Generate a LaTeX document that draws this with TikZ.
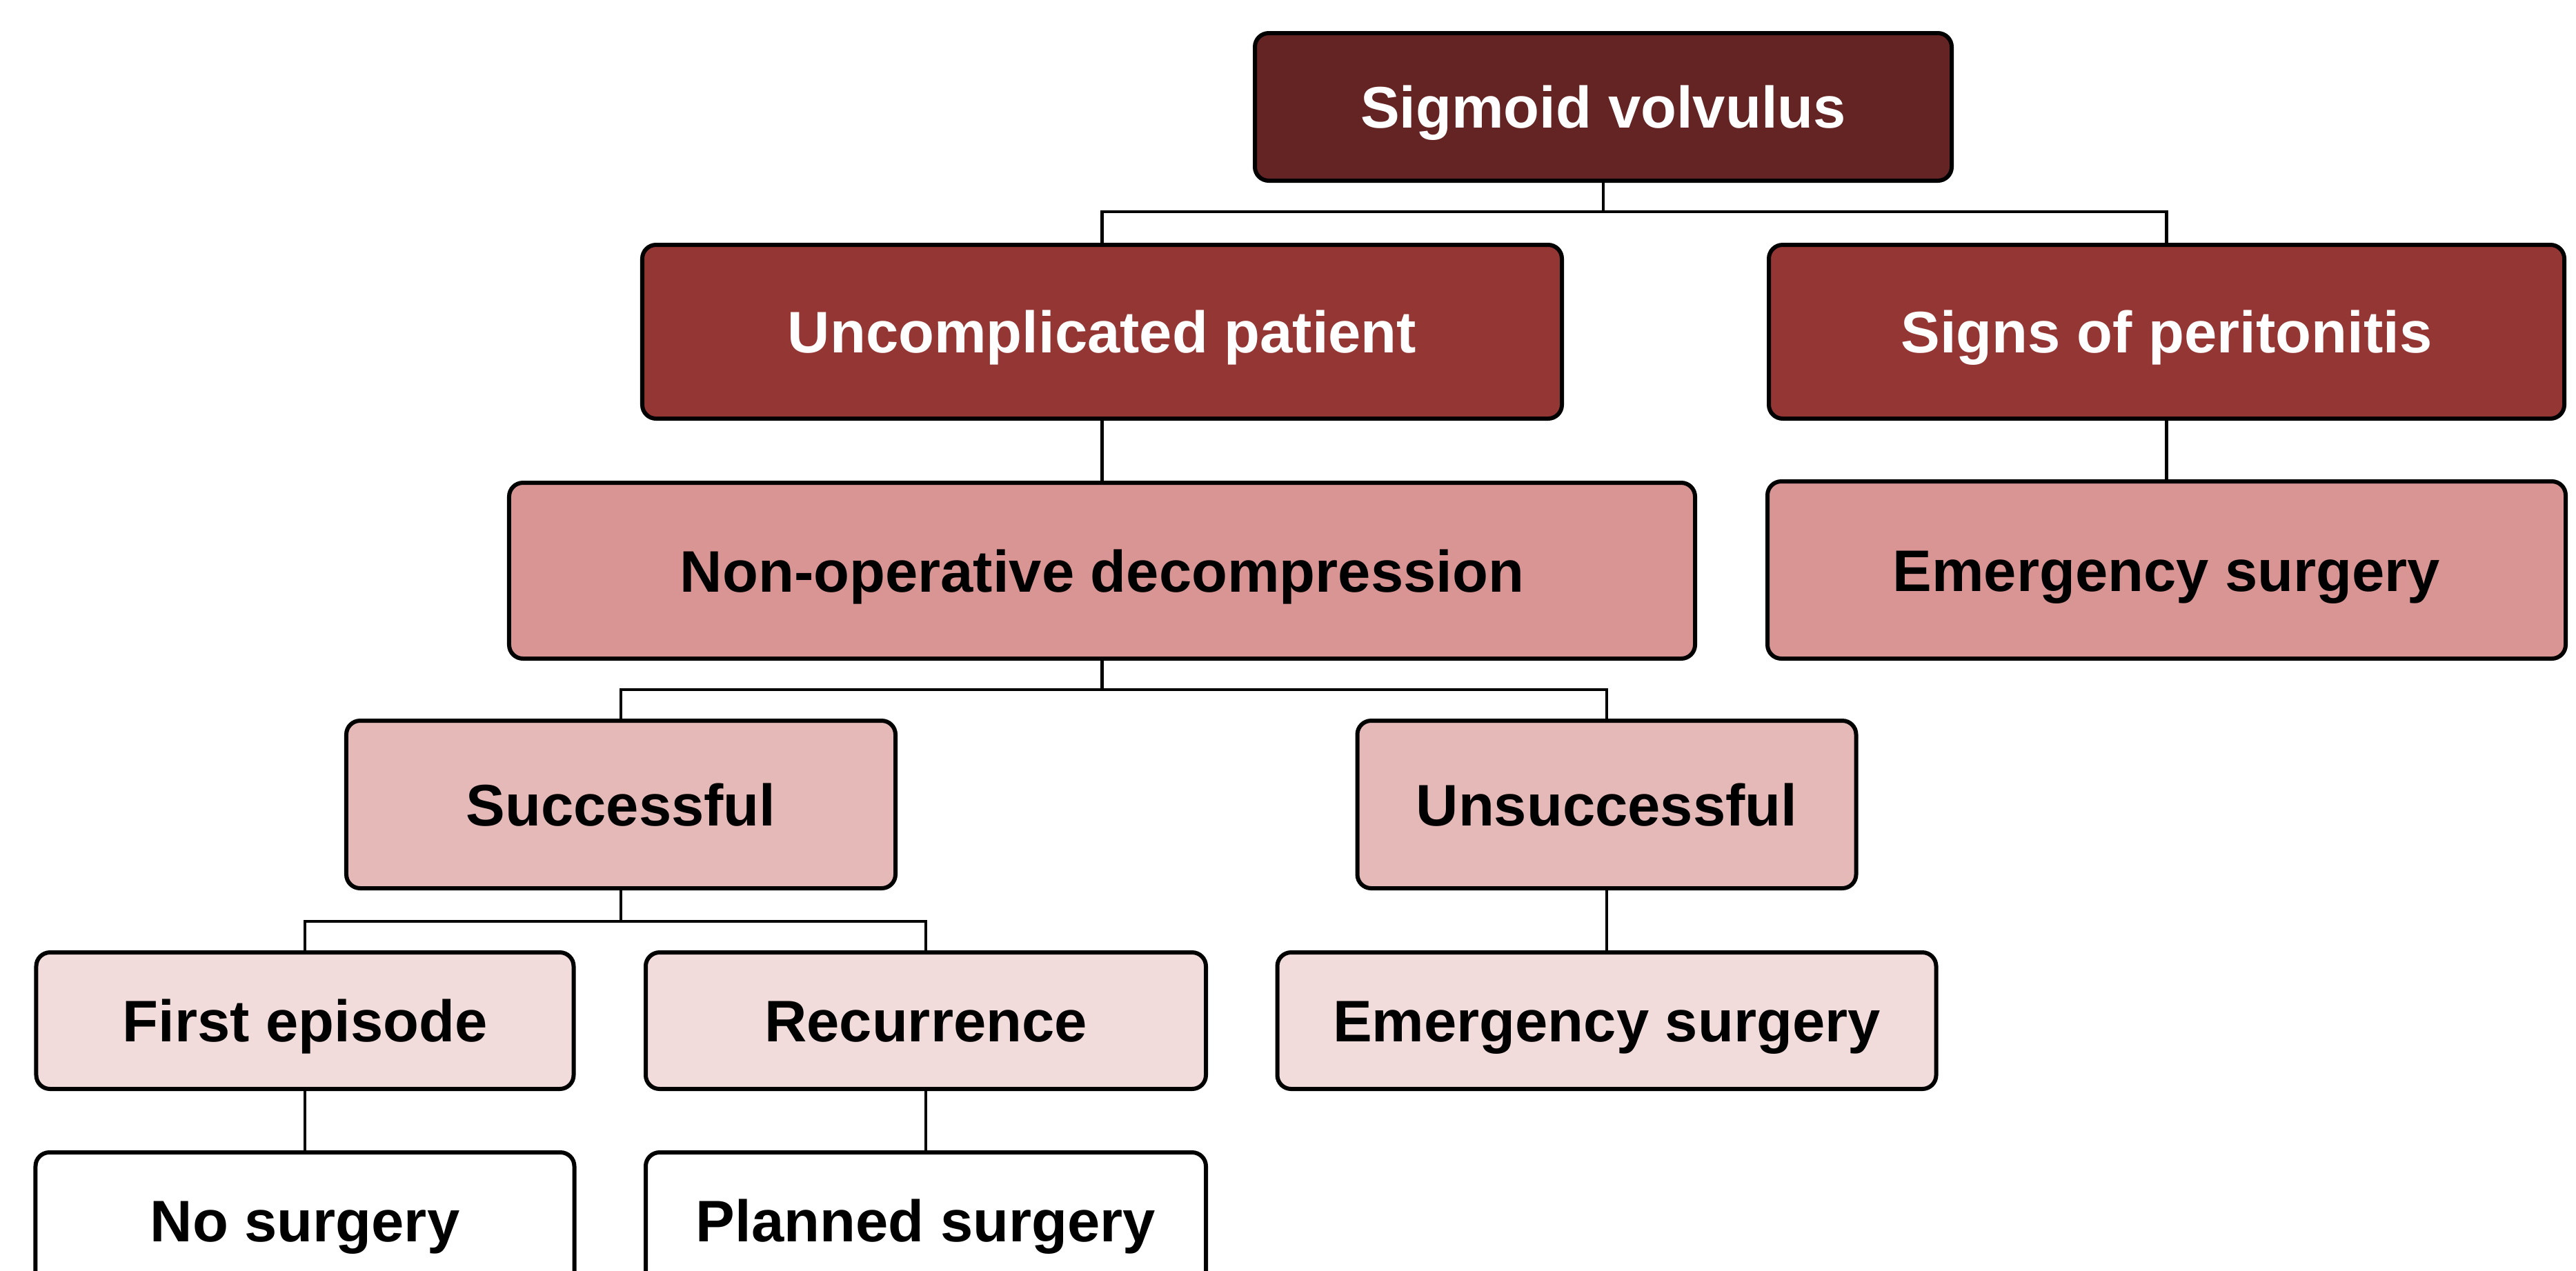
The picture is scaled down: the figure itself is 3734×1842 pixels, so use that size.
\documentclass[tikz,border=0pt]{standalone}
\usepackage{fontspec}
\setmainfont{Liberation Sans}
\definecolor{cA}{HTML}{632423}
\definecolor{cB}{HTML}{943634}
\definecolor{cC}{HTML}{D99594}
\definecolor{cD}{HTML}{E5B9B7}
\definecolor{cE}{HTML}{F2DBDB}
\tikzset{
  box/.style={draw=black, line width=1.2pt, rounded corners=4pt, inner sep=0pt,
    text height=12.2pt, text depth=0pt,
    font=\fontsize{17pt}{20pt}\selectfont\bfseries, align=center},
  lvA/.style={box, fill=cA, text=white},
  lvB/.style={box, fill=cB, text=white},
  lvC/.style={box, fill=cC},
  lvD/.style={box, fill=cD},
  lvE/.style={box, fill=cE},
  lvF/.style={box, fill=white},
  conn/.style={draw=black, line width=0.9pt},
}
\begin{document}
\begin{tikzpicture}[x=0.2pt, y=-0.2pt]
\clip (0,0) rectangle (3734,1842);
\fill[white] (0,0) rectangle (3734,1842);
\coordinate (j1) at (2324,307);
\coordinate (j2) at (1597.5,1000);
\coordinate (j3) at (900,1336);
\node[lvA, minimum width=202pt, minimum height=42.8pt] (sig) at (2324,155) {Sigmoid volvulus};
\node[lvB, minimum width=266.6pt, minimum height=50.4pt] (unc) at (1597.5,481) {Uncomplicated patient};
\node[lvB, minimum width=230.6pt, minimum height=50.4pt] (per) at (3140.5,481) {Signs of peritonitis};
\node[lvC, minimum width=343.8pt, minimum height=51pt] (non) at (1597.5,827.5) {Non-operative decompression};
\node[lvC, minimum width=231.4pt, minimum height=51.4pt] (em1) at (3140.5,826.5) {Emergency surgery};
\node[lvD, minimum width=159.2pt, minimum height=48.6pt] (suc) at (900,1166.5) {Successful};
\node[lvD, minimum width=144.6pt, minimum height=48.6pt] (uns) at (2329,1166.5) {Unsuccessful};
\node[lvE, minimum width=155.8pt, minimum height=39.6pt] (fir) at (442,1480) {First episode};
\node[lvE, minimum width=162.4pt, minimum height=39.6pt] (rec) at (1342,1480) {Recurrence};
\node[lvE, minimum width=191pt, minimum height=39.6pt] (em2) at (2329,1480) {Emergency surgery};
\node[lvF, minimum width=156.2pt, minimum height=39.6pt] (nos) at (442,1770) {No surgery};
\node[lvF, minimum width=162.4pt, minimum height=39.6pt] (pla) at (1342,1770) {Planned surgery};
\draw[conn] (sig.south) -- (j1);
\draw[conn] (unc.north) |- (j1) -| (per.north);
\draw[conn] (unc.south) -- (non.north);
\draw[conn] (per.south) -- (em1.north);
\draw[conn] (non.south) -- (j2);
\draw[conn] (suc.north) |- (j2) -| (uns.north);
\draw[conn] (suc.south) -- (j3);
\draw[conn] (fir.north) |- (j3) -| (rec.north);
\draw[conn] (uns.south) -- (em2.north);
\draw[conn] (fir.south) -- (nos.north);
\draw[conn] (rec.south) -- (pla.north);
\end{tikzpicture}
\end{document}
